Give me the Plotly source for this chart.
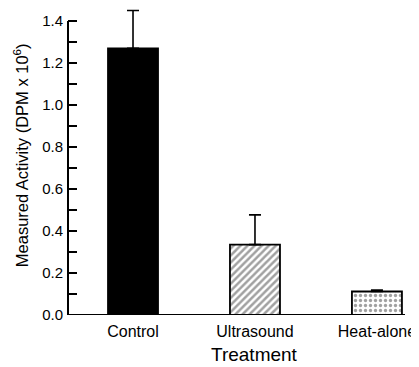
import plotly.graph_objects as go

categories = ["Control", "Ultrasound", "Heat-alone"]
activity = [1.27, 0.335, 0.112]
error_up = [0.18, 0.142, 0.007]
y_ticks = [0.0, 0.2, 0.4, 0.6, 0.8, 1.0, 1.2, 1.4]

positions = list(range(len(categories)))
FONT = "Liberation Sans, Arial, Helvetica, sans-serif"

fig = go.Figure()
fig.add_trace(go.Bar(
    x=positions,
    y=activity,
    width=0.41,
    marker=dict(
        color=["black", "white", "white"],
        line=dict(color="black", width=1.8),
        pattern=dict(
            shape=["", "/", "."],
            fgcolor="black",
            bgcolor="white",
            size=[6, 5, 5],
            solidity=[0.3, 0.5, 0.35],
        ),
    ),
    error_y=dict(
        type="data", symmetric=False, array=error_up,
        arrayminus=[0, 0, 0], color="black", thickness=1.6, width=6,
    ),
    showlegend=False,
))

fig.update_layout(
    width=411, height=359,
    margin=dict(l=60, r=14, t=0, b=52),
    plot_bgcolor="white", paper_bgcolor="white",
    font=dict(family=FONT, color="black"),
    shapes=[
        dict(type="line", xref="paper", yref="y", x0=0, x1=0, y0=0, y1=1.4,
             line=dict(color="black", width=2)),
        dict(type="line", xref="paper", yref="y", x0=0, x1=1, y0=0, y1=0,
             line=dict(color="black", width=2)),
    ],
    annotations=[
        dict(text="Measured Activity (DPM x 10<sup>6</sup>)", textangle=-90,
             xref="paper", yref="paper", x=-0.139, y=0.521, xanchor="center",
             yanchor="middle", showarrow=False, font=dict(size=16.5, family=FONT)),
        dict(text="Treatment", xref="paper", yref="paper", x=0.553, y=-0.13,
             xanchor="center", yanchor="middle", showarrow=False,
             font=dict(size=19, family=FONT)),
    ],
)

fig.update_xaxes(
    range=[-0.533, 2.23],
    tickvals=positions, ticktext=categories,
    ticks="", showline=False, showgrid=False, zeroline=False,
    tickfont=dict(size=16, family=FONT), ticklabelstandoff=5,
)
fig.update_yaxes(
    range=[0, 1.462],
    tickvals=y_ticks, ticktext=[f"{v:.1f}" for v in y_ticks],
    ticks="inside", ticklen=9, tickwidth=1.8, tickcolor="black",
    minor=dict(dtick=0.1, tick0=0, ticks="inside", ticklen=9, tickwidth=1.8,
               tickcolor="black", showgrid=False),
    showline=False, showgrid=False, zeroline=False,
    tickfont=dict(size=15, family=FONT), ticklabelstandoff=4,
)

fig.write_html("out.html")
